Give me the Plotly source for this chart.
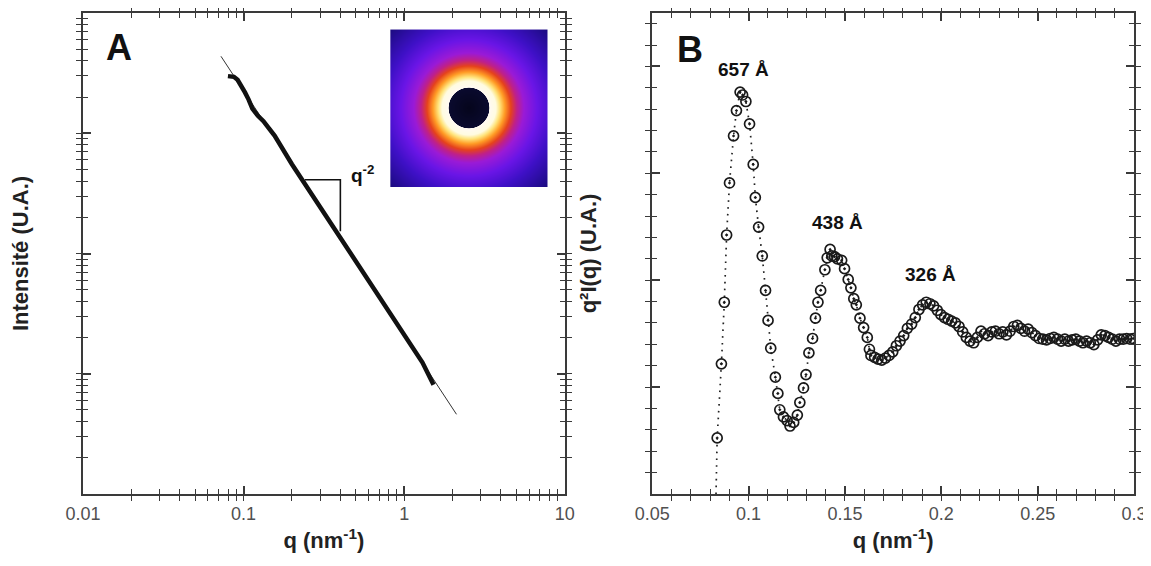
import numpy as np
import plotly.graph_objects as go

# ---------------- Panel A data (log-log) ----------------
qA = [0.0799, 0.0870, 0.0917, 0.0967, 0.1020, 0.1075, 0.1134, 0.1228, 0.1329, 0.1439,
      0.1559, 0.20, 0.25, 0.30, 0.40, 0.50, 0.70, 1.00, 1.30, 1.523]
IA = [2985, 2945, 2786, 2512, 2188, 1905, 1603, 1396, 1259, 1096,
      955, 553, 351, 243, 135.5, 86, 43.5, 21.1, 12.4, 8.1]

fit_q = [0.0723, 2.117]
fit_I = [4365, 4.60]

tri_q = [0.2406, 0.4005, 0.4005]
tri_I = [411, 411, 153]

# ---------------- Panel B data ----------------
qB = [0.0837, 0.0859, 0.0874, 0.0886, 0.0901, 0.0922, 0.0937, 0.0956, 0.0969, 0.0986,
      0.1005, 0.1024, 0.1035, 0.1052, 0.1071, 0.1088, 0.1101, 0.1115, 0.1139, 0.1152,
      0.1162, 0.1181, 0.1200, 0.1215, 0.1234, 0.1253, 0.1266, 0.1285, 0.1298, 0.1313,
      0.1332, 0.1347, 0.1360, 0.1374, 0.1396, 0.1408, 0.1423, 0.1432, 0.1446, 0.1461,
      0.1483, 0.1498, 0.1517, 0.1531, 0.1546, 0.1559, 0.1578, 0.1597, 0.1616, 0.1627,
      0.1635, 0.1654, 0.1672, 0.1691, 0.1710, 0.1729, 0.1748, 0.1767, 0.1786, 0.1805,
      0.1824, 0.1846, 0.1865, 0.1884, 0.1903, 0.1922, 0.1941, 0.1960, 0.1979, 0.1998,
      0.2017, 0.2035, 0.2054, 0.2073, 0.2092, 0.2111, 0.2130, 0.2149, 0.2168, 0.2187,
      0.2206, 0.2224, 0.2243, 0.2262, 0.2281, 0.2300, 0.2319, 0.2338, 0.2357, 0.2376,
      0.2395, 0.2413, 0.2432, 0.2451, 0.2470, 0.2489, 0.2508, 0.2527, 0.2546, 0.2565,
      0.2584, 0.2603, 0.2622, 0.2641, 0.2660, 0.2679, 0.2698, 0.2717, 0.2735, 0.2754,
      0.2773, 0.2792, 0.2811, 0.2830, 0.2849, 0.2868, 0.2887, 0.2906, 0.2925, 0.2944,
      0.2962, 0.2981, 0.2996]
vB = [0.525, 1.218, 1.794, 2.423, 2.910, 3.350, 3.587, 3.760, 3.733, 3.672,
      3.462, 3.083, 2.775, 2.497, 2.227, 1.905, 1.624, 1.364, 1.093, 0.941,
      0.788, 0.721, 0.687, 0.636, 0.670, 0.738, 0.856, 0.992, 1.117, 1.320,
      1.455, 1.645, 1.794, 1.905, 2.098, 2.210, 2.288, 2.227, 2.220, 2.200,
      2.186, 2.108, 2.007, 1.929, 1.827, 1.770, 1.645, 1.557, 1.465, 1.354,
      1.296, 1.279, 1.262, 1.252, 1.272, 1.296, 1.330, 1.387, 1.431, 1.482,
      1.550, 1.590, 1.651, 1.726, 1.770, 1.794, 1.780, 1.760, 1.719, 1.678,
      1.651, 1.635, 1.618, 1.601, 1.567, 1.516, 1.465, 1.431, 1.415, 1.465,
      1.523, 1.499, 1.482, 1.516, 1.523, 1.499, 1.516, 1.489, 1.523, 1.567,
      1.577, 1.550, 1.523, 1.543, 1.509, 1.482, 1.455, 1.448, 1.442, 1.455,
      1.465, 1.448, 1.431, 1.448, 1.431, 1.442, 1.448, 1.431, 1.415, 1.431,
      1.415, 1.398, 1.442, 1.489, 1.482, 1.465, 1.448, 1.431, 1.448, 1.448,
      1.455, 1.448, 1.455]
lead_q = [0.0831]
lead_v = [0.0]

peak_labels = ["657 Å", "438 Å", "326 Å"]
peak_q = [0.0975, 0.1460, 0.1944]
peak_v = [3.97, 2.54, 2.05]

# ---------------- Axis tick values ----------------
xA_major = [0.01, 0.1, 1, 10]
xA_text = ["0.01", "0.1", "1", "10"]
yA_major = [1, 10, 100, 1000, 10000]
digits = [2, 3, 4, 5, 6, 7, 8, 9]
xA_minor = [d * m for d in [0.01, 0.1, 1] for m in digits]
yA_minor = [d * m for d in [1, 10, 100, 1000] for m in digits]

xB_major = [0.05, 0.10, 0.15, 0.20, 0.25, 0.30]
xB_text = ["0.05", "0.1", "0.15", "0.2", "0.25", "0.3"]
xB_minor = [round(0.05 + 0.01 * k, 3) for k in range(26)]
yB_major = [0, 1, 2, 3, 4]
yB_minor = [round(0.2 * k, 2) for k in range(23)]

# ---------------- Inset (2D scattering pattern) radial colour profile ----------------
ring_radius = [0, 20, 20.6, 27, 31, 36, 42, 48, 55, 68, 85, 111]
ring_colors = ["#05051c", "#0a0a2e", "#fffaf2", "#fffbe0", "#ffe37a", "#ff9b25",
               "#e5421c", "#bf2088", "#9a1ad6", "#6a15e6", "#3e10c6", "#1b0b80"]

FONT = "Liberation Sans, Arial, sans-serif"
AX = "#3a3a3a"

# page geometry (the page body adds an 8px offset)
L, T, W, H = 82.5, 12.7, 1051.5, 481.3


def px(xp):
    return (xp - L) / W


def py(yp):
    return (T + H - yp) / H


fig = go.Figure()

# Panel A
fig.add_trace(go.Scatter(x=fit_q, y=fit_I, mode="lines", line=dict(color="#333", width=1),
                         xaxis="x", yaxis="y", showlegend=False, hoverinfo="skip"))
fig.add_trace(go.Scatter(x=qA, y=IA, mode="lines", line=dict(color="#111", width=4.5),
                         xaxis="x", yaxis="y", showlegend=False))
fig.add_trace(go.Scatter(x=tri_q, y=tri_I, mode="lines", line=dict(color="#111", width=1.6),
                         xaxis="x", yaxis="y", showlegend=False, hoverinfo="skip"))

# Inset heatmap
n = 158
half = 78.5
g = np.linspace(-half, half, n)
GX, GY = np.meshgrid(g, g)
R = np.sqrt(GX ** 2 + GY ** 2)
rmax = ring_radius[-1]
cscale = [[r / rmax, c] for r, c in zip(ring_radius, ring_colors)]
fig.add_trace(go.Heatmap(z=R, x=g, y=g, colorscale=cscale, zmin=0, zmax=rmax,
                         showscale=False, xaxis="x3", yaxis="y3", hoverinfo="skip"))

# Panel B
fig.add_trace(go.Scatter(x=lead_q + qB, y=lead_v + vB, mode="lines",
                         line=dict(color="#222", width=1.7, dash="1.6px,5.2px"),
                         xaxis="x2", yaxis="y2", showlegend=False, hoverinfo="skip"))
fig.add_trace(go.Scatter(x=qB, y=vB, mode="markers",
                         marker=dict(symbol="circle-open-dot", size=10, color="#1a1a1a",
                                     line=dict(width=1.7, color="#1a1a1a")),
                         xaxis="x2", yaxis="y2", showlegend=False))

# invisible helpers so the long major-tick overlay axes get drawn
for xa, ya, xv, yv in [("x4", "y", xA_major[1:2], yA_major[1:2]),
                       ("x", "y4", xA_major[1:2], yA_major[1:2]),
                       ("x5", "y2", xB_major[1:2], yB_major[1:2]),
                       ("x2", "y5", xB_major[1:2], yB_major[1:2])]:
    fig.add_trace(go.Scatter(x=xv, y=yv, mode="markers", marker=dict(opacity=0),
                             xaxis=xa, yaxis=ya, showlegend=False, hoverinfo="skip"))

tick_font = dict(family=FONT, size=18, color="#505050")
title_font = dict(family=FONT, size=22, color="#222")

common = dict(showline=True, linecolor=AX, linewidth=2, mirror="allticks",
              ticks="inside", tickcolor=AX, tickwidth=1.3, ticklen=5,
              showgrid=False, zeroline=False, automargin=False, tickmode="array")
major_common = dict(showline=False, mirror="allticks", ticks="inside", tickcolor=AX,
                    tickwidth=1.5, ticklen=8, showgrid=False, zeroline=False,
                    showticklabels=False, automargin=False, tickmode="array")

xA_dom = [0, px(564.5)]
xB_dom = [px(652), 1]


def labelled(all_vals, major_vals, major_text):
    out = []
    for v in all_vals:
        hit = [t for m, t in zip(major_vals, major_text) if abs(m - v) < 1e-9]
        out.append(hit[0] if hit else "")
    return out


xA_all = sorted(xA_major + xA_minor)
xB_all = xB_minor

fig.update_layout(
    width=1143, height=558,
    margin=dict(l=74.5, r=17, t=4.7, b=72),
    paper_bgcolor="white", plot_bgcolor="white",
    template="none",
    xaxis=dict(domain=xA_dom, type="log", range=[-2, 1],
               tickvals=xA_all, ticktext=labelled(xA_all, xA_major, xA_text),
               tickfont=tick_font, ticklabelstandoff=2,
               title=dict(text="<b>q (nm<sup>-1</sup>)</b>", font=title_font, standoff=10),
               anchor="y", **common),
    yaxis=dict(domain=[0, 1], type="log", range=[0, 4],
               tickvals=sorted(yA_major + yA_minor), showticklabels=False,
               title=dict(text="<b>Intensité (U.A.)</b>", font=title_font, standoff=56),
               anchor="x", **common),
    xaxis2=dict(domain=xB_dom, range=[0.05, 0.3],
                tickvals=xB_all, ticktext=labelled(xB_all, xB_major, xB_text),
                tickfont=tick_font, ticklabelstandoff=2, ticklabeloverflow="allow",
                title=dict(text="<b>q (nm<sup>-1</sup>)</b>", font=title_font, standoff=10),
                anchor="y2", **common),
    yaxis2=dict(domain=[0, 1], range=[0, 4.5], tickvals=yB_minor,
                showticklabels=False,
                title=dict(text="<b>q²I(q) (U.A.)</b>", font=title_font, standoff=48),
                anchor="x2", **common),
    # long major-tick overlay axes
    xaxis4=dict(overlaying="x", anchor="y", type="log", range=[-2, 1], tickvals=xA_major,
                **major_common),
    yaxis4=dict(overlaying="y", anchor="x", type="log", range=[0, 4], tickvals=yA_major,
                **major_common),
    xaxis5=dict(overlaying="x2", anchor="y2", range=[0.05, 0.3], tickvals=xB_major,
                **major_common),
    yaxis5=dict(overlaying="y2", anchor="x2", range=[0, 4.5], tickvals=yB_major,
                **major_common),
    xaxis3=dict(domain=[px(390), px(547.3)], range=[-half, half], visible=False, anchor="y3"),
    yaxis3=dict(domain=[py(186.7), py(29.3)], range=[-half, half], visible=False, anchor="x3"),
)

for txt, xp, yp in [("<b>A</b>", 119, 47.5), ("<b>B</b>", 690, 49)]:
    fig.add_annotation(text=txt, xref="paper", yref="paper", x=px(xp), y=py(yp),
                       showarrow=False, font=dict(family=FONT, size=36, color="#111"),
                       xanchor="center", yanchor="middle")

fig.add_annotation(text="<b>q<sup>-2</sup></b>", x=np.log10(0.547), y=np.log10(462),
                   xref="x", yref="y", showarrow=False,
                   font=dict(family=FONT, size=19, color="#111"))

for t, qx, vy in zip(peak_labels, peak_q, peak_v):
    fig.add_annotation(text="<b>" + t + "</b>", x=qx, y=vy, xref="x2", yref="y2",
                       showarrow=False, font=dict(family=FONT, size=19, color="#111"))

fig.write_html("out.html")
